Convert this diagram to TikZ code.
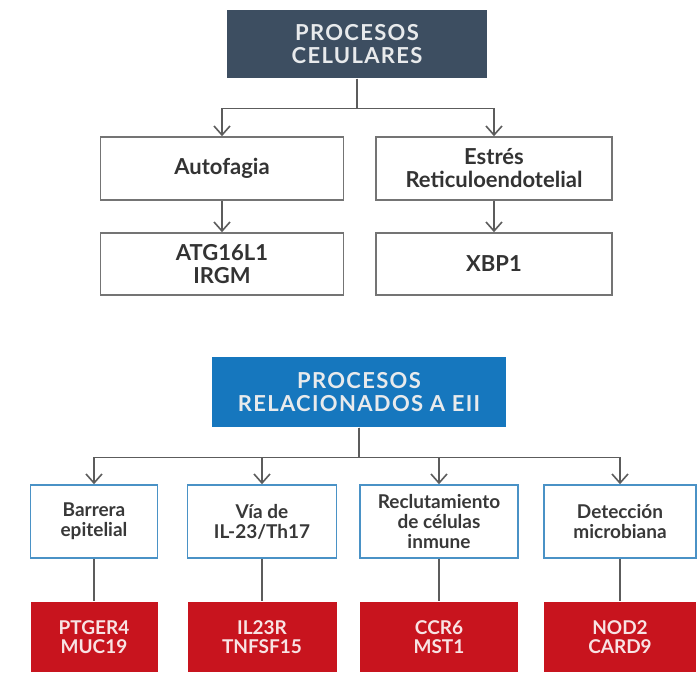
\documentclass[tikz,border=0pt]{standalone}
\usepackage{fontspec}
\setmainfont{Lato}
\newfontfamily\headfont[LetterSpace=6]{Lato}
\usepackage{tikz}
\usetikzlibrary{arrows.meta,positioning}

\definecolor{slate}{HTML}{3D4E61}
\definecolor{eiiblue}{HTML}{1677BE}
\definecolor{genred}{HTML}{C8141E}
\definecolor{wire}{HTML}{5C5C5C}
\definecolor{frameblue}{HTML}{4A92C6}

\tikzset{
  head/.style={rectangle, inner sep=0pt, align=center, text=white!88!slate,
               font=\headfont\bfseries\fontsize{11}{11.5}\selectfont},
  proc/.style={rectangle, draw=wire!85, line width=0.8pt, fill=white, inner sep=0pt,
               align=center, text=black!80, minimum height=31.5pt,
               font=\bfseries\fontsize{11}{11.5}\selectfont},
  sub/.style={rectangle, draw=frameblue, line width=0.8pt, fill=white, inner sep=0pt,
              align=center, text=black!78, minimum height=36.5pt,
              font=\bfseries\fontsize{9.5}{10}\selectfont},
  gen/.style={rectangle, fill=genred, inner sep=0pt, align=center, text=white!88!genred,
              minimum height=35pt, font=\bfseries\fontsize{9.5}{9.5}\selectfont}
}

\begin{document}
\begin{tikzpicture}[>={Straight Barb[length=4.5pt,width=8pt]},semithick,
                    node distance=47.75pt]
  \useasboundingbox (0,0) rectangle (348.5pt,-338.5pt);

  % procesos celulares
  \node[head, fill=slate, minimum width=130pt, minimum height=34pt]
        (cel) at (178.5pt,-22pt) {PROCESOS\\CELULARES};
  \node[proc, minimum width=121.5pt] (auto)   at (111pt,-84.25pt) {Autofagia};
  \node[proc, minimum width=118pt]   (estres) at (247pt,-84.25pt) {Estrés\\Reticuloendotelial};
  \node[proc, minimum width=121.5pt, minimum height=31pt] (atg) [below of=auto]   {ATG16L1\\IRGM};
  \node[proc, minimum width=118pt,   minimum height=31pt] (xbp) [below of=estres] {XBP1};

  % procesos relacionados a EII
  \node[head, fill=eiiblue, minimum width=147pt, minimum height=35pt]
        (eii) at (179.5pt,-196pt) {PROCESOS\\RELACIONADOS A EII};
  \node[sub, minimum width=63.5pt] (barrera) at (47pt,-260.75pt)    {Barrera\\epitelial};
  \node[sub, minimum width=74.5pt] (via)     at (131pt,-260.75pt)   {Vía de\\IL-23/Th17};
  \node[sub, minimum width=79pt]   (reclut)  at (219.5pt,-260.75pt) {Reclutamiento\\de células\\inmune};
  \node[sub, minimum width=76pt]   (detec)   at (310pt,-260.75pt)   {Detección\\microbiana};

  \node[gen, minimum width=63.5pt] (ptger) [below of=barrera, node distance=57.75pt] {PTGER4\\MUC19};
  \node[gen, minimum width=74.5pt] (il)    [below of=via,     node distance=57.75pt] {IL23R\\TNFSF15};
  \node[gen, minimum width=79pt]   (ccr)   [below of=reclut,  node distance=57.75pt] {CCR6\\MST1};
  \node[gen, minimum width=76pt]   (nod)   [below of=detec,   node distance=57.75pt] {NOD2\\CARD9};

  \begin{scope}[draw=wire, line width=0.8pt]
    \draw[->] (cel.south) -- ++(0,-15pt) -| (auto.north);
    \draw[->] (cel.south) -- ++(0,-15pt) -| (estres.north);
    \draw[->] (auto)   -- (atg);
    \draw[->] (estres) -- (xbp);

    \foreach \s in {barrera,via,reclut,detec}
      \draw[->] (eii.south) -- ++(0,-15pt) -| (\s.north);
    \draw (barrera) -- (ptger);
    \draw (via)     -- (il);
    \draw (reclut)  -- (ccr);
    \draw (detec)   -- (nod);
  \end{scope}
\end{tikzpicture}
\end{document}
